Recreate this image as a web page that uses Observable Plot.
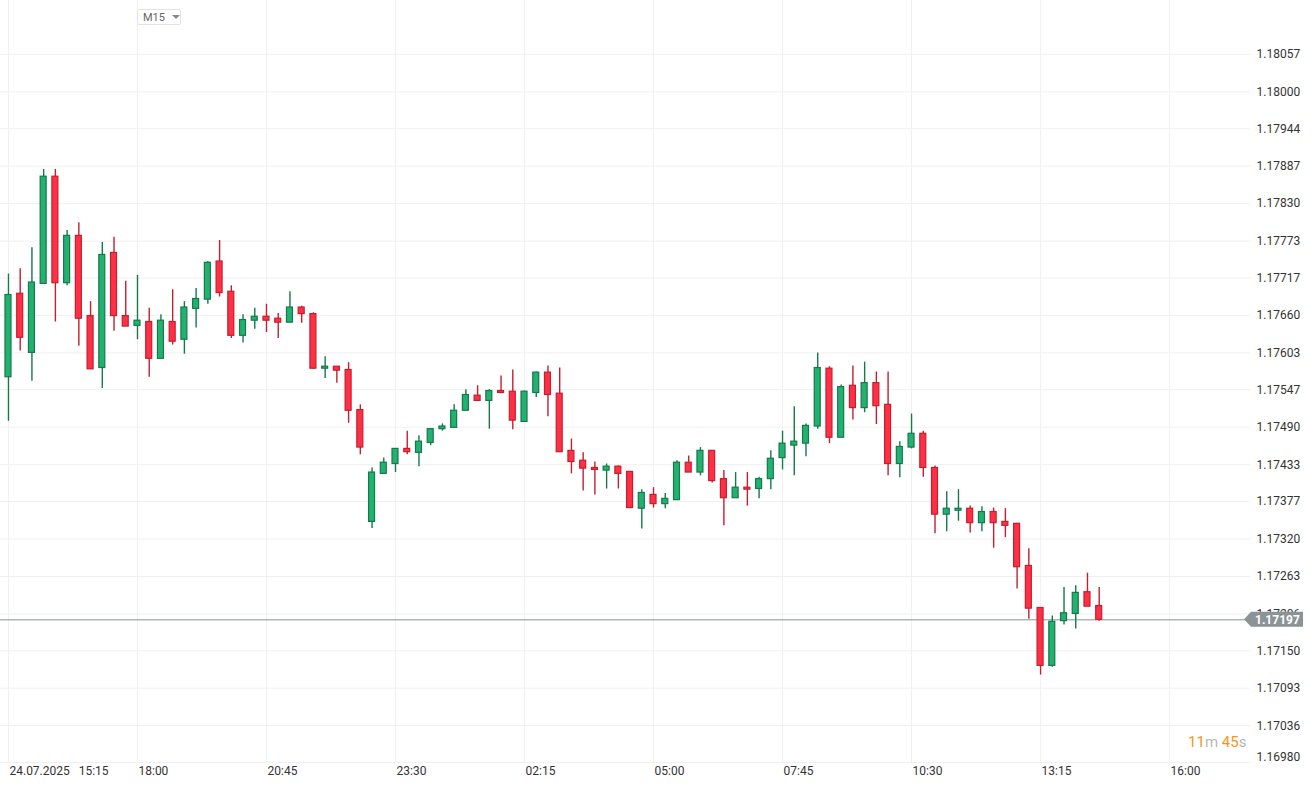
<!DOCTYPE html>
<html>
<head>
<meta charset="utf-8">
<script src="https://cdn.jsdelivr.net/npm/d3@7"></script>
<script src="https://cdn.jsdelivr.net/npm/@observablehq/plot@0.6"></script>
<style>
  html, body { margin: 0; padding: 0; background: #fff; }
  #wrap { position: relative; width: 1315px; height: 787px; font-family: Roboto, "Noto Sans", sans-serif; overflow: hidden; }
  #tf { position: absolute; left: 137px; top: 9px; width: 44px; height: 16px; border: 1px solid #e3e3e3; box-sizing: border-box; border-radius: 2px; background: #fff;
        font-size: 11px; color: #666; white-space: nowrap; display: flex; align-items: center; padding-left: 5px; }
  #tf .tri { display: inline-block; width: 0; height: 0; border-left: 4px solid transparent; border-right: 4px solid transparent; border-top: 4px solid #888; margin-left: 7px; }
  #cd { position: absolute; left: 1188px; top: 733px; font-size: 15px; }
  #cd .o { color: #f7931e; }
  #cd .g { color: #b8b8b8; }
</style>
</head>
<body>
<div id="wrap">
  <div id="chart"></div>
  <div id="tf"><span>M15</span><span class="tri"></span></div>
  <div id="cd"><span class="o">11</span><span class="g">m</span> <span class="o">45</span><span class="g">s</span></div>
</div>
<script>
// EURUSD M15 candles starting 24.07.2025 15:15
const startTime = "2025-07-24T15:15:00Z";
const open = [
1.17566,1.17693,1.17603,1.17708,1.17871,1.17709,1.17781,1.17659,1.17580,1.17755,
1.17659,1.17644,1.17650,1.17594,1.17650,1.17623,1.17670,1.17684,1.17742,1.17696,
1.17629,1.17652,1.17658,1.17655,1.17649,1.17672,1.17662,1.17579,1.17582,1.17577,
1.17516,1.17346,1.17419,1.17434,1.17457,1.17451,1.17466,1.17487,1.17489,1.17515,
1.17538,1.17530,1.17545,1.17544,1.17498,1.17542,1.17573,1.17541,1.17454,1.17439,
1.17428,1.17424,1.17430,1.17422,1.17366,1.17387,1.17373,1.17379,1.17436,1.17421,
1.17454,1.17411,1.17382,1.17398,1.17396,1.17411,1.17443,1.17462,1.17465,1.17491,
1.17579,1.17474,1.17553,1.17519,1.17557,1.17524,1.17434,1.17459,1.17480,1.17428,
1.17357,1.17363,1.17366,1.17344,1.17361,1.17346,1.17343,1.17279,1.17215,1.17127,
1.17195,1.17206,1.17239,1.17218];
const high = [
1.17723,1.17731,1.17763,1.17882,1.17882,1.17789,1.17801,1.17681,1.17771,1.17779,
1.17712,1.17721,1.17671,1.17661,1.17699,1.17681,1.17701,1.17742,1.17774,1.17705,
1.17661,1.17671,1.17677,1.17663,1.17696,1.17674,1.17664,1.17597,1.17582,1.17588,
1.17524,1.17428,1.17443,1.17457,1.17484,1.17477,1.17487,1.17495,1.17524,1.17547,
1.17553,1.17547,1.17568,1.17577,1.17545,1.17574,1.17583,1.17580,1.17472,1.17451,
1.17437,1.17434,1.17431,1.17422,1.17395,1.17398,1.17389,1.17439,1.17446,1.17459,
1.17454,1.17424,1.17421,1.17421,1.17414,1.17454,1.17484,1.17521,1.17495,1.17603,
1.17582,1.17554,1.17583,1.17589,1.17574,1.17574,1.17468,1.17510,1.17484,1.17431,
1.17392,1.17395,1.17370,1.17369,1.17367,1.17366,1.17344,1.17305,1.17215,1.17203,
1.17246,1.17249,1.17268,1.17246];
const low = [
1.17499,1.17606,1.17560,1.17708,1.17650,1.17705,1.17613,1.17578,1.17549,1.17636,
1.17643,1.17623,1.17566,1.17594,1.17615,1.17601,1.17641,1.17677,1.17688,1.17625,
1.17618,1.17639,1.17634,1.17625,1.17649,1.17648,1.17578,1.17564,1.17557,1.17496,
1.17448,1.17336,1.17419,1.17421,1.17448,1.17430,1.17462,1.17484,1.17489,1.17515,
1.17530,1.17487,1.17541,1.17486,1.17498,1.17535,1.17506,1.17452,1.17419,1.17393,
1.17387,1.17396,1.17396,1.17367,1.17335,1.17367,1.17366,1.17379,1.17421,1.17416,
1.17405,1.17340,1.17382,1.17370,1.17381,1.17395,1.17425,1.17416,1.17445,1.17487,
1.17465,1.17474,1.17501,1.17512,1.17494,1.17416,1.17413,1.17457,1.17414,1.17328,
1.17331,1.17347,1.17329,1.17331,1.17306,1.17322,1.17244,1.17198,1.17113,1.17125,
1.17189,1.17183,1.17217,1.17195];
const close = [
1.17691,1.17626,1.17710,1.17871,1.17709,1.17781,1.17655,1.17578,1.17752,1.17659,
1.17643,1.17652,1.17594,1.17652,1.17620,1.17672,1.17685,1.17740,1.17694,1.17629,
1.17653,1.17658,1.17652,1.17649,1.17672,1.17662,1.17579,1.17582,1.17576,1.17515,
1.17459,1.17421,1.17436,1.17457,1.17452,1.17468,1.17487,1.17491,1.17515,1.17539,
1.17530,1.17545,1.17542,1.17500,1.17544,1.17573,1.17539,1.17452,1.17437,1.17427,
1.17425,1.17430,1.17419,1.17367,1.17390,1.17373,1.17381,1.17436,1.17421,1.17454,
1.17408,1.17382,1.17398,1.17395,1.17411,1.17442,1.17465,1.17468,1.17492,1.17580,
1.17474,1.17551,1.17519,1.17557,1.17522,1.17434,1.17460,1.17480,1.17428,1.17357,
1.17366,1.17366,1.17344,1.17361,1.17344,1.17340,1.17277,1.17214,1.17127,1.17194,
1.17207,1.17238,1.17217,1.17197];

const currentPrice = 1.17197;
const yTicks = [1.16980,1.17036,1.17093,1.17150,1.17206,1.17263,1.17320,1.17377,1.17433,1.17490,
                1.17547,1.17603,1.17660,1.17717,1.17773,1.17830,1.17887,1.17944,1.18000,1.18057];
const xTickTimes = ["2025-07-24T15:15:00Z","2025-07-24T18:00:00Z","2025-07-24T20:45:00Z","2025-07-24T23:30:00Z",
                    "2025-07-25T02:15:00Z","2025-07-25T05:00:00Z","2025-07-25T07:45:00Z","2025-07-25T10:30:00Z",
                    "2025-07-25T13:15:00Z","2025-07-25T16:00:00Z"];
const xTickLabels = ["24.07.2025\u00a0\u00a0\u00a015:15","18:00","20:45","23:30","02:15","05:00","07:45","10:30","13:15","16:00"];

const BAR = 15 * 60 * 1000;
const t0 = new Date(startTime).getTime();
const candles = open.map((o, i) => ({
  t: new Date(t0 + i * BAR), o, h: high[i], l: low[i], c: close[i], up: close[i] > o
}));
const half = 0.255 * BAR;
const xTicks = xTickTimes.map(s => new Date(s));
const labelMap = new Map(xTicks.map((d, i) => [+d, xTickLabels[i]]));

const GREEN = "#23b171", GREEN_D = "#137a4a", RED = "#ff3045", RED_D = "#c41f2f";
const fmt = d3.format(".5f");

const chart = Plot.plot({
  width: 1315,
  height: 787,
  marginTop: 0,
  marginLeft: 0,
  marginRight: 65,
  marginBottom: 25,
  style: { fontFamily: "Roboto, 'Noto Sans', sans-serif", fontSize: "12px", color: "#333", background: "#fff" },
  x: { type: "utc", domain: [new Date(t0 - 0.68 * BAR), new Date(t0 + 105.9 * BAR)], label: null },
  y: { domain: [1.16980, 1.18139], label: null },
  marks: [
    Plot.gridY(yTicks, { stroke: "#f0f0f0", strokeOpacity: 1 }),
    Plot.gridX(xTicks, { stroke: "#f0f0f0", strokeOpacity: 1 }),
    Plot.axisX(xTicks, { tickSize: 0, tickPadding: 4, textAnchor: "start", dx: 1, fill: "#333",
                         tickFormat: d => labelMap.get(+d), label: null }),
    Plot.axisY(yTicks.slice(1), { anchor: "right", tickSize: 0, tickPadding: 6, fill: "#333",
                                  tickFormat: fmt, label: null }),
    Plot.text([yTicks[0]], { y: d => d, frameAnchor: "right", dx: 6, dy: -5, textAnchor: "start",
                             text: d => fmt(d), fill: "#333" }),
    Plot.ruleY([currentPrice], { stroke: "#8a9396", strokeWidth: 1 }),
    Plot.ruleX(candles, { x: "t", y1: "l", y2: "h", stroke: d => d.up ? GREEN_D : RED_D, strokeWidth: 1.4 }),
    Plot.rect(candles, {
      x1: d => new Date(+d.t - half), x2: d => new Date(+d.t + half),
      y1: "o", y2: "c",
      fill: d => d.up ? GREEN : RED, stroke: d => d.up ? GREEN_D : RED_D, strokeWidth: 1.2
    })
  ]
});
document.getElementById("chart").appendChild(chart);

// current price tag on the right axis
const svg = d3.select(chart);
const yc = chart.scale("y").apply(currentPrice);
const xr = 1250;
const tag = svg.append("g");
tag.append("path")
  .attr("d", `M${xr - 6},${yc} L${xr + 1},${yc - 7.5} L${xr + 53},${yc - 7.5} L${xr + 53},${yc + 7.5} L${xr + 1},${yc + 7.5} Z`)
  .attr("fill", "#8a9396");
tag.append("text")
  .attr("x", xr + 5).attr("y", yc).attr("dy", "0.35em")
  .attr("text-anchor", "start")
  .attr("fill", "#fff").attr("font-weight", "bold").attr("font-size", 12)
  .attr("font-family", "Roboto, sans-serif")
  .text(fmt(currentPrice));
</script>
</body>
</html>
